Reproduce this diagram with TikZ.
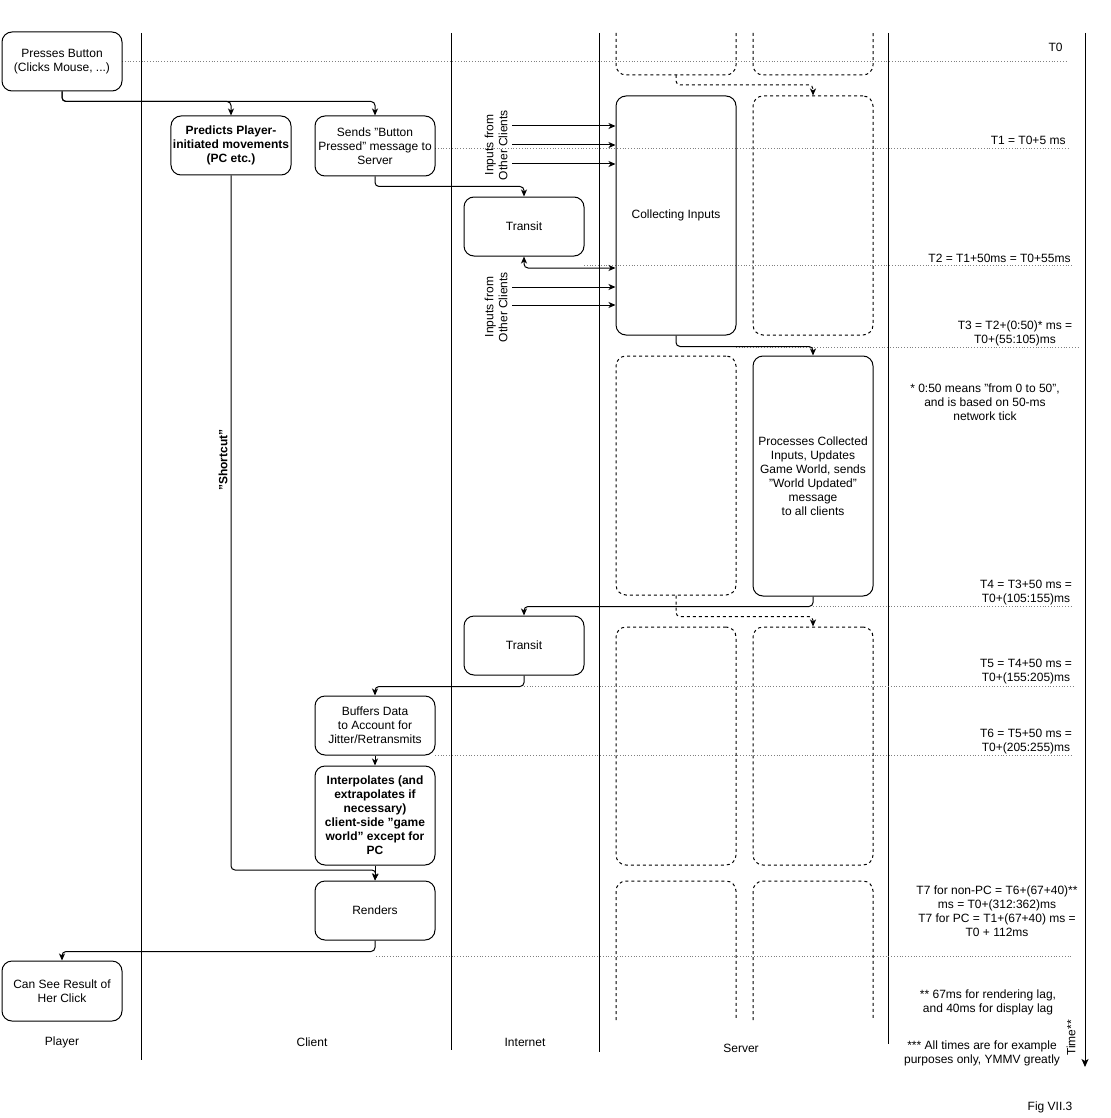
\documentclass[tikz,border=0pt]{standalone}
\usepackage{fontspec}
\setmainfont{Liberation Sans}
\usetikzlibrary{arrows.meta,positioning}

\tikzset{
  box/.style={draw,rounded corners=10pt,minimum width=120pt,align=center,inner sep=2pt},
  ghost/.style={draw,dashed,rounded corners=10pt},
  arr/.style={-{Stealth[length=7pt,width=6pt,inset=2pt]},rounded corners=4pt},
  tick/.style={dotted,gray,line width=0.8pt},
  lane/.style={draw},
  note/.style={align=center,inner sep=0pt},
  tnote/.style={align=right,anchor=east,inner sep=0pt},
}

\begin{document}
\begin{tikzpicture}[x=1pt,y=-1pt,line width=1pt,font=\fontsize{12}{14}\selectfont]
  \useasboundingbox (0,0) rectangle (1110,1118);

  % lanes
  \draw[lane] (141,33) -- (141,1060);
  \draw[lane] (451,33) -- (451,1050);
  \draw[lane] (599,33) -- (599,1052);
  \draw[lane] (888,33) -- (888,1044);
  \draw[-{Stealth[length=8pt,width=7pt,inset=2pt]}] (1085,33) -- (1085,1067);

  % time ticks
  \draw[tick] (122,61) -- (1068,61);
  \draw[tick] (435,148) -- (1068,148);
  \draw[tick] (584,265) -- (1073,265);
  \draw[tick] (736,347) -- (1078,347);
  \draw[tick] (813,606) -- (1073,606);
  \draw[tick] (524,686) -- (1073,686);
  \draw[tick] (435,755) -- (1073,755);
  \draw[tick] (376,956) -- (1073,956);

  % boxes
  \node[box,minimum height=59pt] (press) at (62,61.5) {Presses Button\\(Clicks Mouse, ...)};
  \node[box,minimum height=59pt,font=\fontsize{12}{14}\selectfont\bfseries] (predict) at (231,145.5) {Predicts Player-\\initiated movements\\(PC etc.)};
  \node[box,minimum height=60pt] (send) at (375,146) {Sends "Button\\Pressed" message to\\Server};
  \node[box,minimum height=59pt] (transitA) at (524,226.5) {Transit};
  \node[box,minimum height=239pt] (collect) at (676,215.5) {Collecting Inputs};
  \node[ghost,minimum width=120pt,minimum height=239pt] (idleA) at (813,215.5) {};
  \node[ghost,minimum width=120pt,minimum height=239pt] (idleB) at (676,475.5) {};
  \node[box,minimum height=240pt] (process) at (813,476) {Processes Collected\\Inputs, Updates\\Game World, sends\\"World Updated"\\message\\to all clients};
  \node[box,minimum height=59pt] (transitB) at (524,645.5) {Transit};
  \node[ghost,minimum width=120pt,minimum height=238pt] (idleC) at (676,746) {};
  \node[ghost,minimum width=120pt,minimum height=238pt] (idleD) at (813,746) {};
  \node[box,minimum height=59pt] (buffer) at (375,725.5) {Buffers Data\\to Account for\\Jitter/Retransmits};
  \node[box,minimum height=99pt,font=\fontsize{12}{14}\selectfont\bfseries] (interp) at (375,815.5) {Interpolates (and\\extrapolates if\\necessary)\\client-side "game\\world" except for\\PC};
  \node[box,minimum height=59pt] (render) at (375,910.5) {Renders};
  \node[box,minimum height=60pt] (see) at (62,991) {Can See Result of\\Her Click};

  % open dashed boxes
  \draw[ghost] (616,33) -- (616,75) -- (736,75) -- (736,33);
  \draw[ghost] (753,33) -- (753,75) -- (873,75) -- (873,33);
  \draw[ghost] (616,1020) -- (616,881) -- (736,881) -- (736,1020);
  \draw[ghost] (753,1020) -- (753,881) -- (873,881) -- (873,1020);
  \coordinate (topA) at (676,75);

  % connectors
  \draw[arr] (press.south) -- ++(0,10) -| (predict.north);
  \draw[arr] (press.south) -- ++(0,10) -| (send.north);
  \draw[arr] (send.south) -- ++(0,10) -| (transitA.north);
  \draw[arr,{Stealth[length=7pt,width=6pt,inset=2pt]}-{Stealth[length=7pt,width=6pt,inset=2pt]}] (transitA.south) |- (collect.west |- 0,268);
  \draw[arr,dashed] (topA) -- ++(0,10) -| (idleA.north);
  \draw[arr] (collect.south) -- ++(0,11) -| (process.north);
  \draw[arr] (process.south) -- ++(0,10) -| (transitB.north);
  \draw[arr,dashed] (idleB.south) -- ++(0,21) -| (idleD.north);
  \draw[arr] (transitB.south) -- ++(0,11) -| (buffer.north);
  \draw[arr] (buffer) -- (interp);
  \draw[arr] (interp) -- (render);
  \draw[arr] (predict.south) |- (376,870) -- (render.north);
  \draw[arr] (render.south) -- ++(0,11) -| (see.north);
  \foreach \y in {126,145,164,287,305}
    \draw[arr] (512,\y) -- (collect.west |- 0,\y);

  \node[rotate=90,note] (othersA) at (496,145) {Inputs from\\Other Clients};
  \node[rotate=90,note] (othersB) at (496,307) {Inputs from\\Other Clients};
  \node[rotate=90,note,font=\fontsize{12}{14}\selectfont\bfseries] (shortcut) at (223,460) {"Shortcut"};

  % time notes
  \node[tnote] (t0) at (1063,47) {T0};
  \node[tnote] (t1) at (1066,140) {T1 = T0+5 ms};
  \node[tnote] (t2) at (1071,258) {T2 = T1+50ms = T0+55ms};
  \node[note] (t3) at (1015,333) {T3 = T2+(0:50)* ms =\\T0+(55:105)ms};
  \node[note] (star) at (985,402) {* 0:50 means "from 0 to 50",\\and is based on 50-ms\\network tick};
  \node[note] (t4) at (1026,593) {T4 = T3+50 ms =\\T0+(105:155)ms};
  \node[note] (t5) at (1026,672) {T5 = T4+50 ms =\\T0+(155:205)ms};
  \node[note] (t6) at (1026,742) {T6 = T5+50 ms =\\T0+(205:255)ms};
  \node[note] (t7) at (997,911) {T7 for non-PC = T6+(67+40)**\\ms = T0+(312:362)ms\\T7 for PC = T1+(67+40) ms =\\T0 + 112ms};
  \node[note] (stars) at (988,1002) {** 67ms for rendering lag,\\and 40ms for display lag};
  \node[note] (all) at (982,1053) {*** All times are for example\\purposes only, YMMV greatly};
  \node[rotate=90,note] (time) at (1071,1038) {Time**};

  % lane names
  \node (player) at (62,1042) {Player};
  \node (client) at (312,1042) {Client};
  \node (internet) at (525,1042) {Internet};
  \node (server) at (741,1048) {Server};
  \node (fig) at (1050,1107) {Fig VII.3};
\end{tikzpicture}
\end{document}
